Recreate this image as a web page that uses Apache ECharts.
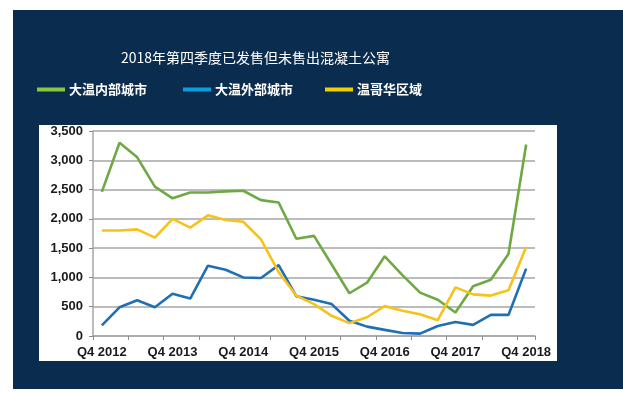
<!DOCTYPE html>
<html>
<head>
<meta charset="utf-8">
<script src="https://cdn.jsdelivr.net/npm/echarts@6/dist/echarts.min.js"></script>
<style>
html,body{margin:0;padding:0;background:#ffffff;}
#chart{width:623px;height:401px;}
</style>
</head>
<body>
<div id="chart"></div>
<script>
var titleText = '2018年第四季度已发售但未售出混凝土公寓';
var seriesNames = ['大温内部城市', '大温外部城市', '温哥华区域'];
var categories = [
  'Q4 2012','Q1 2013','Q2 2013','Q3 2013',
  'Q4 2013','Q1 2014','Q2 2014','Q3 2014',
  'Q4 2014','Q1 2015','Q2 2015','Q3 2015',
  'Q4 2015','Q1 2016','Q2 2016','Q3 2016',
  'Q4 2016','Q1 2017','Q2 2017','Q3 2017',
  'Q4 2017','Q1 2018','Q2 2018','Q3 2018',
  'Q4 2018'
];
var innerCities = [2460, 3300, 3050, 2550, 2350, 2450, 2450, 2470, 2480, 2320, 2280, 1660, 1710, 1220, 730, 910, 1360, 1040, 740, 620, 400, 850, 960, 1400, 3270];
var outerCities = [180, 490, 610, 490, 720, 640, 1200, 1130, 1000, 990, 1210, 680, 620, 545, 260, 160, 105, 50, 40, 170, 240, 190, 360, 360, 1150];
var vancouverRegion = [1800, 1800, 1820, 1680, 2000, 1850, 2060, 1980, 1950, 1650, 1090, 690, 545, 345, 220, 320, 510, 430, 370, 270, 830, 710, 690, 780, 1520];
var yTicks = [0, 500, 1000, 1500, 2000, 2500, 3000, 3500];

var lineColors = ['#6fa944', '#1f6fb5', '#f6c21c'];
var legendColors = ['#8cc63f', '#0b9de0', '#f2cd00'];

var chart = echarts.init(document.getElementById('chart'), null, {renderer: 'canvas'});

function makeLegend(i, left) {
  return {
    left: left, top: 83,
    icon: 'rect', itemWidth: 28, itemHeight: 4,
    padding: 0, itemGap: 0,
    data: [{name: seriesNames[i], itemStyle: {color: legendColors[i]}}],
    textStyle: {color: '#ffffff', fontSize: 13, fontWeight: 'bold', fontFamily: 'Noto Sans CJK SC', padding: [0, 0, 0, -1]}
  };
}

var option = {
  backgroundColor: '#ffffff',
  animation: false,
  graphic: [
    {type: 'rect', z: -10, silent: true, shape: {x: 13, y: 10, width: 610, height: 379}, style: {fill: '#0a2d4f'}},
    {type: 'rect', z: -9, silent: true, shape: {x: 39, y: 125, width: 518, height: 236}, style: {fill: '#ffffff'}}
  ],
  title: {
    text: titleText,
    left: 121, top: 51,
    padding: 0,
    textStyle: {color: '#ffffff', fontSize: 14, fontWeight: 'normal', fontFamily: 'Noto Sans CJK SC'}
  },
  legend: [makeLegend(0, 37), makeLegend(1, 183), makeLegend(2, 325)],
  grid: {left: 93, right: 88, top: 131, bottom: 65, containLabel: false, outerBoundsMode: 'none'},
  xAxis: {
    type: 'category',
    data: categories,
    boundaryGap: true,
    axisLine: {show: true, lineStyle: {color: '#a6a6a6', width: 1.5}},
    axisTick: {show: true, interval: 1, length: 4, lineStyle: {color: '#8c8c8c', width: 1}},
    axisLabel: {interval: 3, margin: 10, color: '#1a1a1a', fontSize: 13, fontWeight: 'bold', fontFamily: 'Liberation Sans'},
    splitLine: {show: false}
  },
  yAxis: {
    type: 'value',
    min: yTicks[0], max: yTicks[yTicks.length - 1], interval: 500,
    axisLine: {show: true, lineStyle: {color: '#a6a6a6', width: 1.5}},
    axisTick: {show: true, length: 4, lineStyle: {color: '#8c8c8c', width: 1}},
    axisLabel: {
      margin: 10, color: '#1a1a1a', fontSize: 13, fontWeight: 'bold', fontFamily: 'Liberation Sans',
      formatter: function (v) { return v.toLocaleString('en-US'); }
    },
    splitLine: {show: true, lineStyle: {color: '#a6a6a6', width: 1.5}}
  },
  series: [
    {name: seriesNames[0], type: 'line', data: innerCities, symbol: 'none', lineStyle: {color: lineColors[0], width: 2.6}, itemStyle: {color: lineColors[0]}, z: 2},
    {name: seriesNames[1], type: 'line', data: outerCities, symbol: 'none', lineStyle: {color: lineColors[1], width: 2.6}, itemStyle: {color: lineColors[1]}, z: 3},
    {name: seriesNames[2], type: 'line', data: vancouverRegion, symbol: 'none', lineStyle: {color: lineColors[2], width: 2.6}, itemStyle: {color: lineColors[2]}, z: 4}
  ]
};
chart.setOption(option);
</script>
</body>
</html>
